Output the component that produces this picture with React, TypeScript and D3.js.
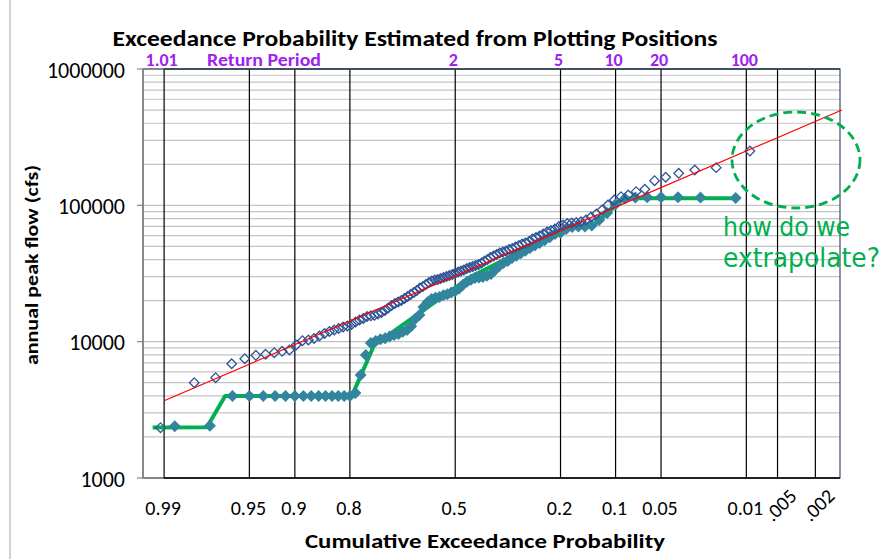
import React from 'react';
import * as d3 from 'd3';

const W = 885;
const H = 559;

// Vertical probability grid lines and their labels
const gridProbs = [0.99, 0.95, 0.9, 0.8, 0.5, 0.2, 0.1, 0.05, 0.01, 0.005, 0.002];
const gridProbLabels = ['0.99', '0.95', '0.9', '0.8', '0.5', '0.2', '0.1', '0.05', '0.01', '.005', '.002'];
// Return periods along the top
const returnPeriods = [1.01, 2, 5, 10, 20, 100];
const returnPeriodLabels = ['1.01', '2', '5', '10', '20', '100'];
// Y axis ticks
const yTicks = [1000, 10000, 100000, 1000000];
const yTickLabels = ['1000', '10000', '100000', '1000000'];

// Observed annual peaks (cfs), ranked largest first (open diamonds)
const observedPeaks = [
  250000, 189000, 181500, 171700, 160600, 151700, 131200, 126000, 119000, 115700,
  109400, 100500, 92400, 86400, 82100, 78070, 75860, 74840, 74210, 73590,
  71750, 69950, 67070, 65400, 63760, 61640, 59590, 58080, 56630, 54290,
  52930, 52040, 50740, 49480, 48240, 47430, 46250, 45460, 44700, 43580,
  42500, 41440, 40060, 39060, 37760, 36810, 36200, 35590, 34990, 34400,
  33550, 32990, 32430, 31720, 31100, 30560, 30060, 29560, 29070, 28580,
  28340, 27870, 27170, 26270, 25390, 24760, 23730, 22940, 22180, 21450,
  20740, 20040, 19540, 19050, 18420, 17660, 16930, 16370, 15960, 15640,
  15480, 15300, 14790, 14420, 13940, 13370, 13030, 12810, 12490, 12180,
  11870, 11480, 11010, 10550, 10290, 10170, 9450, 8690, 8500, 8300,
  8080, 7940, 7500, 6890, 5440, 5000, 2340,
];

// Second record of annual peaks (cfs), ranked largest first (filled diamonds)
const regulatedPeaks = [
  113000, 114000, 114500, 114500, 114500, 114000, 112000, 102000, 88000, 78000,
  71000, 70000, 70000, 69500, 67000, 63000, 61600, 58400, 55400, 53000,
  50700, 48600, 46500, 44500, 42600, 41000, 39000, 37800, 35900, 33600,
  31400, 30400, 29800, 29600, 29300, 28400, 27500, 26200, 24500, 23500,
  22900, 22300, 21900, 21300, 21000, 20600, 19500, 17960, 15700, 14700,
  13000, 12200, 11800, 11400, 11200, 10900, 10600, 10400, 10100, 9770,
  7980, 5700, 4200, 4000, 4000, 4000, 4000, 4000, 4000, 4000,
  4000, 4000, 4000, 4000, 4000, 4000, 4000, 2420, 2400,
];

// Green curve vertices (exceedance probability, flow)
const curveProbs = [0.9922, 0.9764, 0.967, 0.7955, 0.7414, 0.4523, 0.179, 0.1373, 0.0909, 0.0809, 0.01274];
const curveFlows = [2347, 2355, 4000, 4000, 9450, 29800, 69700, 69700, 109400, 112600, 112600];

// Fitted red line
const fitProbs = [0.99, 0.001];
const fitFlows = [3690, 500000];

// inverse standard normal CDF (Acklam)
function probit(p: number): number {
  const a = [-3.969683028665376e1, 2.209460984245205e2, -2.759285104469687e2, 1.38357751867269e2, -3.066479806614716e1, 2.506628277459239];
  const b = [-5.447609879822406e1, 1.615858368580409e2, -1.556989798598866e2, 6.680131188771972e1, -1.328068155288572e1];
  const c = [-7.784894002430293e-3, -3.223964580411365e-1, -2.400758277161838, -2.549732539343734, 4.374664141464968, 2.938163982698783];
  const d = [7.784695709041462e-3, 3.224671290700398e-1, 2.445134137142996, 3.754408661907416];
  const pl = 0.02425;
  if (p < pl) {
    const q = Math.sqrt(-2 * Math.log(p));
    return (((((c[0] * q + c[1]) * q + c[2]) * q + c[3]) * q + c[4]) * q + c[5]) / ((((d[0] * q + d[1]) * q + d[2]) * q + d[3]) * q + 1);
  }
  if (p > 1 - pl) {
    const q = Math.sqrt(-2 * Math.log(1 - p));
    return -(((((c[0] * q + c[1]) * q + c[2]) * q + c[3]) * q + c[4]) * q + c[5]) / ((((d[0] * q + d[1]) * q + d[2]) * q + d[3]) * q + 1);
  }
  const q = p - 0.5;
  const r = q * q;
  return (((((a[0] * r + a[1]) * r + a[2]) * r + a[3]) * r + a[4]) * r + a[5]) * q / (((((b[0] * r + b[1]) * r + b[2]) * r + b[3]) * r + b[4]) * r + 1);
}

const PL = 143, PR = 840, PT = 69, PB = 478;
const zScale = d3.scaleLinear().domain([-2.495, 3.075]).range([PL, PR]);
const xOf = (pExceed: number) => zScale(probit(1 - pExceed));
const yScale = d3.scaleLog().domain([1000, 1000000]).range([PB, PT]);

const diamond = (r: number) => `M0,${-r}L${r},0L0,${r}L${-r},0Z`;

const FONT = 'Carlito, Calibri, Lato, "Liberation Sans", sans-serif';

export default function App() {
  const minorValues: number[] = [];
  for (let e = 3; e < 6; e++) {
    for (let k = 1; k <= 9; k++) minorValues.push(k * Math.pow(10, e));
  }
  minorValues.push(1000000);

  const nObs = observedPeaks.length;
  const nReg = regulatedPeaks.length;

  const line = d3.line<[number, number]>().x(d => xOf(d[0])).y(d => yScale(d[1]));
  const curvePts: [number, number][] = curveProbs.map((p, i) => [p, curveFlows[i]]);
  const fitPts: [number, number][] = fitProbs.map((p, i) => [p, fitFlows[i]]);

  return (
    <svg width={W} height={H} style={{ position: 'absolute', left: 0, top: 0, background: '#fff' }}>
      <rect x={0} y={0} width={W} height={H} fill="#fff" />
      <line x1={10} x2={10} y1={0} y2={H} stroke="#A6A6A6" strokeWidth={1} />

      {/* horizontal grid */}
      {minorValues.map((v, i) => (
        <line key={'h' + i} x1={PL} x2={PR} y1={yScale(v)} y2={yScale(v)} stroke="#C4C4C4" strokeWidth={1.2} />
      ))}
      {/* plot border */}
      <rect x={PL} y={PT} width={PR - PL} height={PB - PT} fill="none" stroke="#3C4E66" strokeWidth={1.2} />
      {/* axes */}
      <line x1={PL} x2={PL} y1={PT} y2={PB} stroke="#868686" strokeWidth={1.5} />
      <line x1={PL} x2={PR} y1={PB} y2={PB} stroke="#868686" strokeWidth={1.5} />
      {yTicks.map((v, i) => (
        <g key={'yt' + i}>
          <line x1={PL - 6} x2={PL} y1={yScale(v)} y2={yScale(v)} stroke="#868686" strokeWidth={1.2} />
          <text x={125} y={yScale(v) + 1} dy="0.35em" textAnchor="end" fontFamily={FONT} fontSize={22} fill="#000">
            {yTickLabels[i]}
          </text>
        </g>
      ))}

      {/* vertical probability lines */}
      {gridProbs.map((p, i) => (
        <line key={'v' + i} x1={xOf(p)} x2={xOf(p)} y1={PT} y2={PB} stroke="#000" strokeWidth={1.2} />
      ))}
      <line x1={xOf(gridProbs[0])} x2={PR} y1={PB} y2={PB} stroke="#000" strokeWidth={1.3} />
      <line x1={xOf(gridProbs[0])} x2={PR} y1={PT} y2={PT} stroke="#2E3E56" strokeWidth={1.3} />

      {/* x tick labels */}
      {gridProbs.map((p, i) => {
        const lab = gridProbLabels[i];
        if (lab.startsWith('.')) {
          const cx = xOf(p) + 3;
          const cy = 505;
          return (
            <text key={'xl' + i} x={cx} y={cy} dy="0.35em" textAnchor="middle" fontFamily={FONT} fontSize={20}
              transform={`rotate(-45 ${cx} ${cy})`} fill="#000">{lab}</text>
          );
        }
        return (
          <text key={'xl' + i} x={xOf(p) - 1} y={508} dy="0.35em" textAnchor="middle" fontFamily={FONT} fontSize={20} fill="#000">
            {lab}
          </text>
        );
      })}

      {/* return period labels */}
      {returnPeriods.map((t, i) => (
        <text key={'rp' + i} x={xOf(1 / t) - 2} y={66} textAnchor="middle" fontFamily={FONT} fontWeight="bold" fontSize={18} fill="#A020F0">
          {returnPeriodLabels[i]}
        </text>
      ))}
      <text x={264} y={66} textAnchor="middle" fontFamily={FONT} fontWeight="bold" fontSize={18} fill="#A020F0"
        textLength={114} lengthAdjust="spacingAndGlyphs">Return Period</text>

      {/* green curve */}
      <path d={line(curvePts) || ''} fill="none" stroke="#00B050" strokeWidth={4} strokeLinejoin="round" />
      {/* second record */}
      {regulatedPeaks.map((q, i) => (
        <path key={'g' + i} d={diamond(6)} transform={`translate(${xOf((i + 1) / (nReg + 1))},${yScale(q)})`} fill="#31859C" />
      ))}
      {/* observed peaks */}
      {observedPeaks.map((q, i) => (
        <path key={'b' + i} d={diamond(4.8)} transform={`translate(${xOf((i + 1) / (nObs + 1))},${yScale(q)})`}
          fill="none" stroke="#2F5496" strokeWidth={1.3} />
      ))}
      {/* fitted line */}
      <path d={line(fitPts) || ''} fill="none" stroke="#FF0000" strokeWidth={1.2} />

      {/* annotation */}
      <ellipse cx={796} cy={160} rx={64} ry={48} fill="none" stroke="#00B050" strokeWidth={2.8} strokeDasharray="9 5" />
      <text x={723} y={236} fontFamily='"Comic Sans MS", "DejaVu Sans", sans-serif' fontSize={26} fill="#00B050"
        textLength={127} lengthAdjust="spacingAndGlyphs">how do we</text>
      <text x={723} y={267} fontFamily='"Comic Sans MS", "DejaVu Sans", sans-serif' fontSize={26} fill="#00B050"
        textLength={157} lengthAdjust="spacingAndGlyphs">extrapolate?</text>

      {/* titles */}
      <text x={415} y={46} textAnchor="middle" fontFamily={FONT} fontWeight="bold" fontSize={23} fill="#000"
        textLength={605} lengthAdjust="spacingAndGlyphs">Exceedance Probability Estimated from Plotting Positions</text>
      <text x={485} y={548} textAnchor="middle" fontFamily={FONT} fontWeight="bold" fontSize={21} fill="#000"
        textLength={360} lengthAdjust="spacingAndGlyphs">Cumulative Exceedance Probability</text>
      <text transform="translate(38,265) rotate(-90)" textAnchor="middle" fontFamily={FONT} fontWeight="bold" fontSize={18} fill="#000"
        textLength={200} lengthAdjust="spacingAndGlyphs">annual peak flow (cfs)</text>
    </svg>
  );
}
